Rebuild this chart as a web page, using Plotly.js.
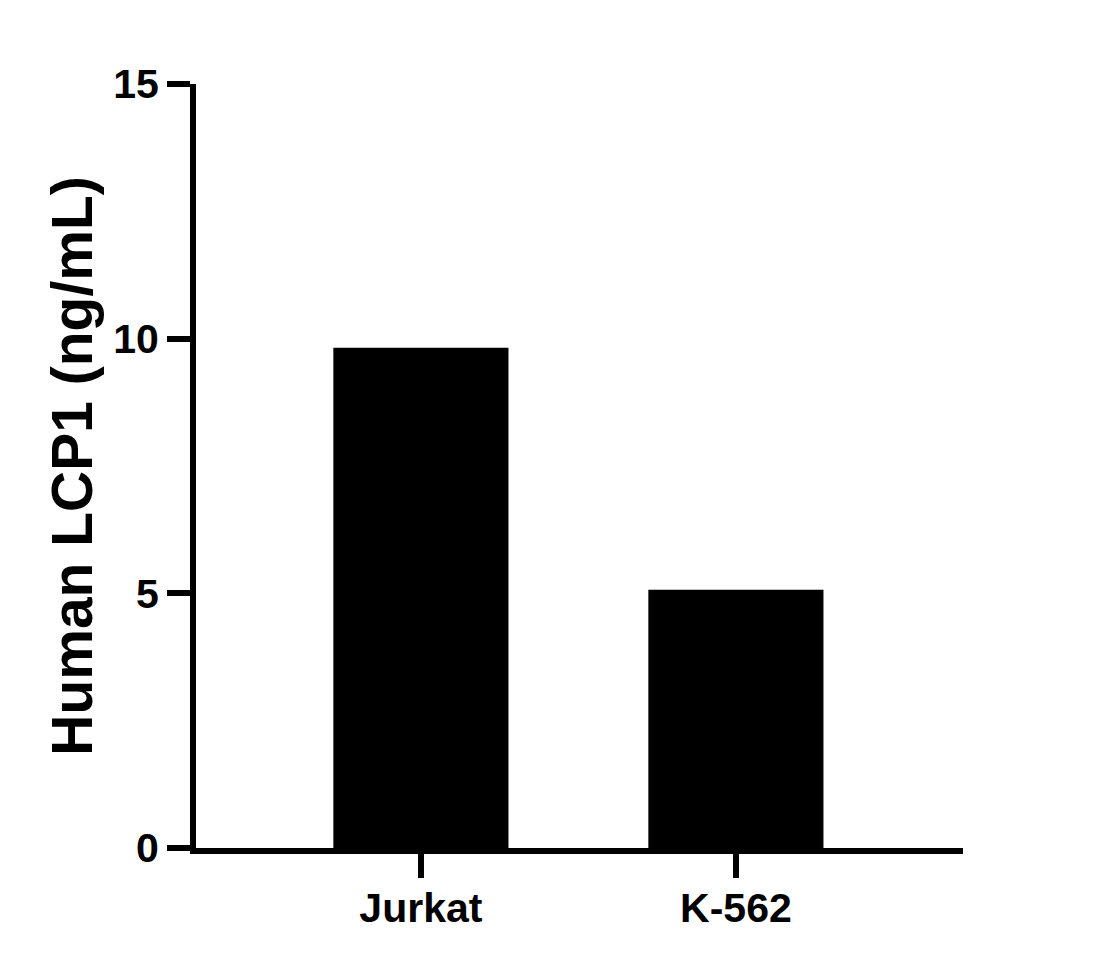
<!DOCTYPE html>
<html>
  <head>
    <meta charset="utf-8" />
    <title>Human LCP1</title>
    <script src="https://cdn.plot.ly/plotly-3.0.1.min.js"></script>
    <style>
      body { margin: 0; padding: 0; background-color: white; }
      #graphDiv { width: 1101px; height: 968px; }
    </style>
  </head>
  <body>
    <div id="graphDiv"></div>
    <script>
      const cell_lines = ["Jurkat", "K-562"];
      const lcp1_values = [9.82, 5.07];
      const y_ticks = [0, 5, 10, 15];

      const font_family = "Liberation Sans, Arial, sans-serif";

      const traces = [
        {
          type: "bar",
          x: cell_lines,
          y: lcp1_values,
          marker: { color: "black", line: { width: 0 } },
          hoverinfo: "x+y",
        },
      ];

      const layout = {
        width: 1101,
        height: 968,
        showlegend: false,
        plot_bgcolor: "white",
        paper_bgcolor: "white",
        bargap: 0.444,
        margin: { l: 196, r: 138, t: 84, b: 120 },
        font: { family: font_family, color: "black" },
        xaxis: {
          type: "category",
          range: [-0.714, 1.721],
          showline: true,
          linewidth: 6,
          linecolor: "black",
          showgrid: false,
          zeroline: false,
          ticks: "outside",
          ticklen: 24,
          tickwidth: 6,
          tickcolor: "black",
          ticklabelstandoff: -5,
          tickfont: { family: font_family, size: 41, weight: "bold" },
        },
        yaxis: {
          range: [0, 15],
          tickvals: y_ticks,
          showline: true,
          linewidth: 6,
          linecolor: "black",
          showgrid: false,
          zeroline: false,
          ticks: "outside",
          ticklen: 23,
          tickwidth: 6,
          tickcolor: "black",
          tickfont: { family: font_family, size: 41, weight: "bold" },
          title: {
            text: "Human LCP1 (ng/mL)",
            font: { family: font_family, size: 57, weight: "bold" },
            standoff: 4,
          },
        },
      };

      Plotly.newPlot("graphDiv", traces, layout, { displayModeBar: false });
    </script>
  </body>
</html>
